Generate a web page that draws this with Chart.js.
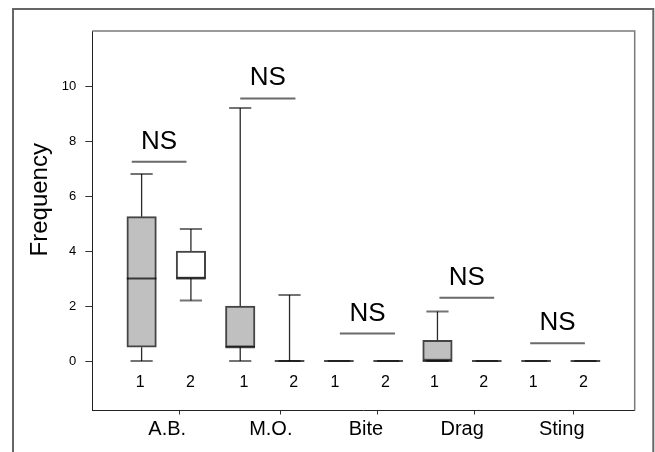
<!DOCTYPE html>
<html><head><meta charset="utf-8">
<script src="https://cdn.jsdelivr.net/npm/chart.js@4.4.1/dist/chart.umd.min.js"></script>
<style>html,body{margin:0;padding:0;background:#fff}canvas{display:block}</style>
</head><body>
<canvas id="c" width="655" height="452"></canvas>
<script>
// ---- data ----
const groups = ['A.B.', 'M.O.', 'Bite', 'Drag', 'Sting'];
const subLabels = ['1', '2'];
const boxPos = [1, 2, 3, 4, 5, 6, 7, 8, 9, 10];
const whiskerLow  = [0, 2.2, 0, 0, 0, 0, 0, 0, 0, 0];
const q1          = [0.5, 3, 0.5, 0, 0, 0, 0, 0, 0, 0];
const median      = [3, 3, 0.5, 0, 0, 0, 0, 0, 0, 0];
const q3          = [5.25, 4, 2, 0, 0, 0, 0.75, 0, 0, 0];
const whiskerHigh = [6.8, 4.8, 9.2, 2.4, 0, 0, 1.8, 0, 0, 0];
const nsText = 'NS';
const nsLevel = [7.25, 9.55, 1.0, 2.3, 0.65];
const nsFrom  = [0.8, 3.0, 5.02, 7.04, 8.88];
const nsTo    = [1.91, 4.12, 6.14, 8.15, 9.99];
const yTicks = [0, 2, 4, 6, 8, 10];
const yTitle = 'Frequency';

// ---- layout constants ----
const groupLabelAt = [1.52, 3.62, 5.55, 7.5, 9.52];
const groupTickAt = [2, 4, 6, 8, 10];
const subLabelAt = [0.972, 1.99, 3.075, 4.085, 4.92, 5.945, 6.94, 7.94, 8.94, 9.96];
const subLabelY = -0.77;
const FONT = '"Liberation Sans", Arial, Helvetica, sans-serif';
const halfBox = 0.3, halfCap = 0.225;

Chart.defaults.font.family = FONT;

function segs(builder) {
  const out = [];
  boxPos.forEach((p, i) => { builder(p, i).forEach(s => { out.push(s[0], s[1], {x: s[1].x, y: null}); }); });
  return out;
}
const whiskerData = segs((p, i) => [
  [{x: p, y: whiskerLow[i]}, {x: p, y: q1[i]}],
  [{x: p, y: q3[i]}, {x: p, y: whiskerHigh[i]}]
]);
const capData = segs((p, i) => [
  [{x: p - halfCap, y: whiskerLow[i]}, {x: p + halfCap, y: whiskerLow[i]}],
  [{x: p - halfCap, y: whiskerHigh[i]}, {x: p + halfCap, y: whiskerHigh[i]}]
]);
const medianData = segs((p, i) => [
  [{x: p - halfBox, y: median[i]}, {x: p + halfBox, y: median[i]}]
]);
const nsData = [];
nsLevel.forEach((v, i) => { nsData.push({x: nsFrom[i], y: v}, {x: nsTo[i], y: v}, {x: nsTo[i], y: null}); });

const lineBase = {type: 'line', pointRadius: 0, pointHoverRadius: 0, tension: 0, fill: false, spanGaps: false};

const deco = {
  id: 'deco',
  beforeDraw(chart) {
    const ctx = chart.ctx;
    ctx.save();
    ctx.strokeStyle = '#666'; ctx.lineWidth = 2;
    ctx.beginPath();
    ctx.moveTo(13, 470); ctx.lineTo(13, 9); ctx.lineTo(653.3, 9); ctx.lineTo(653.3, 470);
    ctx.stroke();
    ctx.restore();
  },
  afterDraw(chart) {
    const {ctx, chartArea: a, scales: {x, y}} = chart;
    ctx.save();
    ctx.strokeStyle = '#7a7a7a'; ctx.lineWidth = 1.5;
    ctx.beginPath();
    ctx.moveTo(a.left, a.top); ctx.lineTo(a.right, a.top); ctx.lineTo(a.right, a.bottom);
    ctx.stroke();
    ctx.fillStyle = '#000';
    ctx.textAlign = 'center';
    ctx.font = '16px ' + FONT; ctx.textBaseline = 'middle';
    subLabelAt.forEach((p, i) => ctx.fillText(subLabels[i % 2], x.getPixelForValue(p), y.getPixelForValue(subLabelY)));
    ctx.font = '26px ' + FONT; ctx.textBaseline = 'alphabetic';
    nsLevel.forEach((v, i) => ctx.fillText(nsText, x.getPixelForValue((nsFrom[i] + nsTo[i]) / 2), y.getPixelForValue(v) - 13));
    ctx.translate(a.left - 45.8, (a.top + a.bottom) / 2 - 21);
    ctx.rotate(-Math.PI / 2);
    ctx.font = '24px ' + FONT;
    ctx.fillText(yTitle, 0, 0);
    ctx.restore();
  }
};

new Chart(document.getElementById('c'), {
  type: 'bar',
  data: {
    datasets: [
      {type: 'bar', data: boxPos.map((p, i) => ({x: p, y: [q1[i], q3[i]]})),
       backgroundColor: boxPos.map((p, i) => i % 2 === 0 ? '#c0c0c0' : '#ffffff'),
       borderColor: '#444', borderWidth: 2, borderSkipped: false, barThickness: 29.5, order: 5},
      Object.assign({}, lineBase, {data: whiskerData, borderColor: '#2a2a2a', borderWidth: 1.3, order: 4}),
      Object.assign({}, lineBase, {data: capData, borderColor: 'rgba(0,0,0,0.55)', borderWidth: 2, order: 3}),
      Object.assign({}, lineBase, {data: medianData, borderColor: 'rgba(0,0,0,0.7)', borderWidth: 2, order: 2}),
      Object.assign({}, lineBase, {data: nsData, borderColor: '#6a6a6a', borderWidth: 2, order: 1})
    ]
  },
  options: {
    responsive: false,
    animation: false,
    devicePixelRatio: 1,
    layout: {padding: {left: 52.3, right: 20.3, top: 31, bottom: 11.5}},
    plugins: {legend: {display: false}, tooltip: {enabled: false}},
    scales: {
      x: {
        type: 'linear', min: 0, max: 11, offset: false,
        afterBuildTicks(s) {
          s.ticks = groupLabelAt.concat(groupTickAt).sort((a, b) => a - b).map(v => ({value: v}));
        },
        ticks: {
          autoSkip: false, maxRotation: 0, minRotation: 0, color: '#000', font: {size: 20}, padding: 3,
          callback(v) { const i = groupLabelAt.indexOf(v); return i >= 0 ? groups[i] : ''; }
        },
        grid: {
          drawOnChartArea: false, drawTicks: true, tickLength: 4, tickWidth: 1,
          tickColor(ctx) { return ctx.tick && groupTickAt.includes(ctx.tick.value) ? '#333' : 'rgba(0,0,0,0)'; }
        },
        border: {color: '#222', width: 1},
        afterFit(s) { s.height = 30; }
      },
      y: {
        min: -1.8, max: 12,
        afterBuildTicks(s) { s.ticks = yTicks.map(v => ({value: v})); },
        ticks: {color: '#000', font: {size: 13}, padding: 9},
        grid: {drawOnChartArea: false, drawTicks: true, tickLength: 7, tickColor: '#333'},
        border: {color: '#222', width: 1},
        afterFit(s) { s.width = 40; }
      }
    }
  },
  plugins: [deco]
});
</script>
</body></html>
